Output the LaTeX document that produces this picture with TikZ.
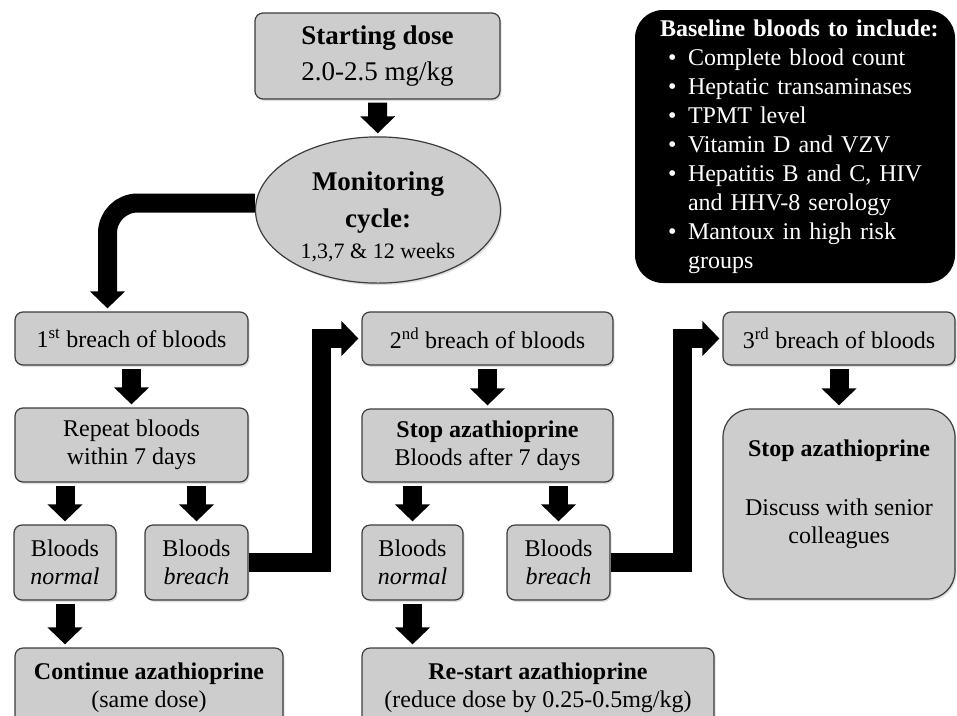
\documentclass[tikz,border=0pt]{standalone}
\usepackage{fontspec}
\setmainfont{Liberation Serif}
\usepackage{xcolor}
\usetikzlibrary{shapes.geometric,arrows.meta,shadows}
\definecolor{boxgray}{RGB}{205,205,205}
\definecolor{boxline}{RGB}{60,60,60}
\newcommand{\bul}{\hspace*{8pt}\makebox[20pt][l]{\textbullet}}

\tikzset{
  box/.style={draw=boxline, fill=boxgray, line width=1.2pt, rounded corners=8pt,
    align=center, inner sep=0pt, font=\fontsize{24}{28}\selectfont,
    drop shadow={shadow xshift=1.5pt, shadow yshift=-2pt, opacity=0.25}},
  fatarrow/.style={line width=19pt, -{Triangle[length=17pt,width=34pt]},
    shorten <=3pt, shorten >=3pt, line join=miter},
}

\begin{document}
\begin{tikzpicture}[x=1pt,y=-1pt]
\useasboundingbox (0,0) rectangle (957,715);

% Start and monitoring
\node[box, minimum width=245pt, minimum height=86pt, font=\fontsize{27}{36}\selectfont] (start) at (377.5,56) {\textbf{Starting dose}\\2.0-2.5 mg/kg};
\node[ellipse, draw=boxline, fill=boxgray, line width=1.2pt, minimum width=245pt, minimum height=145pt, inner sep=0pt, align=center,
  font=\fontsize{27}{37}\selectfont, drop shadow={shadow xshift=1.5pt, shadow yshift=-2pt, opacity=0.25}] (monitor) at (378,210)
  {\rule{0pt}{32pt}\textbf{Monitoring}\\\textbf{cycle:}\\[-6pt]{\fontsize{22}{31}\selectfont 1,3,7 \& 12 weeks}};

% Baseline bloods
\node[fill=black, rounded corners=28pt, minimum width=320pt, minimum height=273pt, text=white, text width=270pt, align=left,
  inner sep=0pt, font=\fontsize{24}{29}\selectfont] (baseline) at (795,146.5)
  {\makebox[270pt][l]{\textbf{Baseline bloods to include:}}\\
   \bul Complete blood count\\
   \bul Heptatic transaminases\\
   \bul TPMT level\\
   \bul Vitamin D and VZV\\
   \bul Hepatitis B and C, HIV\\
   \hspace*{28pt}and HHV-8 serology\\
   \bul Mantoux in high risk\\
   \hspace*{28pt}groups};

% Breaches
\node[box, minimum width=233pt, minimum height=53pt] (first) at (131.5,338.5) {1\textsuperscript{st} breach of bloods};
\node[box, minimum width=251pt, minimum height=53pt] (second) at (487.5,338.5) {2\textsuperscript{nd} breach of bloods};
\node[box, minimum width=232pt, minimum height=53pt] (third) at (839,338.5) {3\textsuperscript{rd} breach of bloods};

% Actions
\node[box, minimum width=233pt, minimum height=74pt] (repeat) at (131.5,445) {Repeat bloods\\within 7 days};
\node[box, minimum width=251pt, minimum height=73pt] (stopa) at (487.5,445.5) {\textbf{Stop azathioprine}\\Bloods after 7 days};
\node[box, rounded corners=28pt, minimum width=232pt, minimum height=190pt] (stopb) at (839,504)
  {\textbf{Stop azathioprine}\\[31pt]Discuss with senior\\colleagues\\[-4pt]\mbox{}};

% Results
\node[box, minimum width=102pt, minimum height=75pt] (normal1) at (65,562.5) {Bloods\\\textit{normal}};
\node[box, minimum width=103pt, minimum height=75pt] (breach1) at (196.5,562.5) {Bloods\\\textit{breach}};
\node[box, minimum width=101pt, minimum height=75pt] (normal2) at (412.5,562.5) {Bloods\\\textit{normal}};
\node[box, minimum width=103pt, minimum height=75pt] (breach2) at (558.5,562.5) {Bloods\\\textit{breach}};

% Outcomes
\node[box, minimum width=268pt, minimum height=80pt] (cont) at (149,688) {\textbf{Continue azathioprine}\\(same dose)};
\node[box, minimum width=352pt, minimum height=80pt] (restart) at (538,688) {\textbf{Re-start azathioprine}\\(reduce dose by 0.25-0.5mg/kg)};

% Arrows
\draw[fatarrow] (start) -- (monitor);
\draw[fatarrow, rounded corners=30pt, shorten <=0pt] ([yshift=7pt]monitor.west) -| ([xshift=-24pt]first.north);
\draw[fatarrow] (first) -- (repeat);
\draw[fatarrow] (repeat.south -| normal1) -- (normal1);
\draw[fatarrow] (repeat.south -| breach1) -- (breach1);
\draw[fatarrow] (normal1) -- (normal1 |- cont.north);
\draw[fatarrow, shorten <=0pt] (breach1.east) -- ++(73,0) |- (second.west);
\draw[fatarrow] (second) -- (stopa);
\draw[fatarrow] (stopa.south -| normal2) -- (normal2);
\draw[fatarrow] (stopa.south -| breach2) -- (breach2);
\draw[fatarrow] (normal2) -- (normal2 |- restart.north);
\draw[fatarrow, shorten <=0pt] (breach2.east) -- ++(72,0) |- (third.west);
\draw[fatarrow] (third) -- (stopb);
\end{tikzpicture}
\end{document}
